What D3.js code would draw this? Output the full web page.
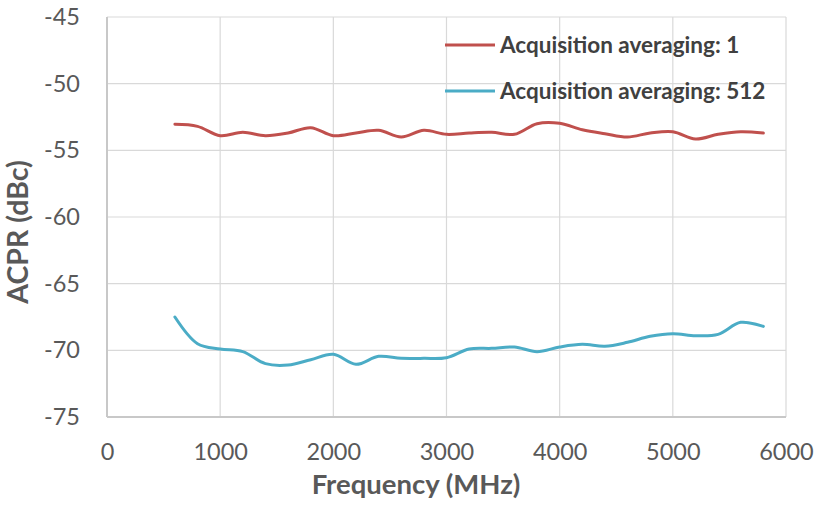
<!DOCTYPE html>
<html><head><meta charset="utf-8">
<script src="https://cdn.jsdelivr.net/npm/d3@7"></script>
<style>
html,body{margin:0;padding:0;background:#fff;}
svg{display:block;}
</style></head>
<body>
<script>
const freqs = [600,800,1000,1200,1400,1600,1800,2000,2200,2400,2600,2800,3000,3200,3400,3600,3800,4000,4200,4400,4600,4800,5000,5200,5400,5600,5800];
const avg1 = [-53.05,-53.2,-53.9,-53.65,-53.9,-53.7,-53.3,-53.9,-53.7,-53.5,-54.0,-53.5,-53.8,-53.7,-53.65,-53.8,-53.0,-52.97,-53.45,-53.75,-54.0,-53.7,-53.6,-54.15,-53.8,-53.6,-53.7];
const avg512 = [-67.5,-69.5,-69.9,-70.1,-71.0,-71.1,-70.7,-70.3,-71.05,-70.45,-70.6,-70.6,-70.55,-69.9,-69.85,-69.75,-70.1,-69.75,-69.55,-69.7,-69.4,-68.95,-68.75,-68.9,-68.8,-67.9,-68.2];
const seriesNames = ["Acquisition averaging: 1","Acquisition averaging: 512"];
const xTicks = [0,1000,2000,3000,4000,5000,6000];
const yTicks = [-75,-70,-65,-60,-55,-50,-45];
const xTitle = "Frequency (MHz)";
const yTitle = "ACPR (dBc)";

const W=814,H=508;
const L=107,R=786,T=17,B=417;
const colors=["#c0504d","#4bacc6"];
const font="Lato, 'Open Sans', sans-serif";

const svg=d3.select("body").append("svg").attr("width",W).attr("height",H);
const x=d3.scaleLinear().domain([0,6000]).range([L,R]);
const y=d3.scaleLinear().domain([-75,-45]).range([B,T]);

// gridlines
const g=svg.append("g");
g.selectAll(".hg").data(yTicks).enter().append("line")
 .attr("x1",L).attr("x2",R).attr("y1",d=>y(d)).attr("y2",d=>y(d))
 .attr("stroke","#d9d9d9").attr("stroke-width",1.2);
g.selectAll(".vg").data(xTicks).enter().append("line")
 .attr("y1",T).attr("y2",B).attr("x1",d=>x(d)).attr("x2",d=>x(d))
 .attr("stroke","#d9d9d9").attr("stroke-width",1.2);
// axis lines
g.append("line").attr("x1",L).attr("x2",L).attr("y1",T).attr("y2",B).attr("stroke","#c8c8c8").attr("stroke-width",2);
g.append("line").attr("x1",L).attr("x2",R).attr("y1",B).attr("y2",B).attr("stroke","#c8c8c8").attr("stroke-width",2);

// axes labels via d3.axis
const xa=svg.append("g").attr("transform",`translate(0,${B})`)
 .call(d3.axisBottom(x).tickValues(xTicks).tickSize(0).tickPadding(26).tickFormat(d3.format("d")));
xa.select(".domain").remove();
xa.selectAll("text").attr("font-family",font).attr("font-size",23.5).attr("fill","#595959");

const ya=svg.append("g").attr("transform",`translate(${L},0)`)
 .call(d3.axisLeft(y).tickValues(yTicks).tickSize(0).tickPadding(27).tickFormat(d=>d3.format("d")(d).replace("−","-")));
ya.select(".domain").remove();
ya.selectAll("text").attr("font-family",font).attr("font-size",23.5).attr("fill","#595959");

// titles
svg.append("text").attr("x",416).attr("y",494).attr("text-anchor","middle")
 .attr("font-family",font).attr("font-weight","bold").attr("font-size",27.5).attr("fill","#595959").text(xTitle);
svg.append("text").attr("transform","translate(28,232) rotate(-90)").attr("text-anchor","middle")
 .attr("font-family",font).attr("font-weight","bold").attr("font-size",28.5).attr("fill","#595959").text(yTitle);

// lines
const line=d3.line().x(d=>x(d[0])).y(d=>y(d[1])).curve(d3.curveCatmullRom.alpha(0.5));
[avg1,avg512].forEach((vals,i)=>{
  svg.append("path").datum(freqs.map((f,j)=>[f,vals[j]]))
   .attr("d",line).attr("fill","none").attr("stroke",colors[i]).attr("stroke-width",3)
   .attr("stroke-linejoin","round").attr("stroke-linecap","round");
});

// legend
const lg=svg.append("g");
const ly=[45,91];
seriesNames.forEach((n,i)=>{
  lg.append("line").attr("x1",445).attr("x2",495).attr("y1",ly[i]).attr("y2",ly[i])
   .attr("stroke",colors[i]).attr("stroke-width",3);
  lg.append("text").attr("x",500).attr("y",ly[i]).attr("dy","0.35em")
   .attr("font-family",font).attr("font-weight","bold").attr("font-size",22.5).attr("fill","#404040").text(n);
});
</script>
</body></html>
